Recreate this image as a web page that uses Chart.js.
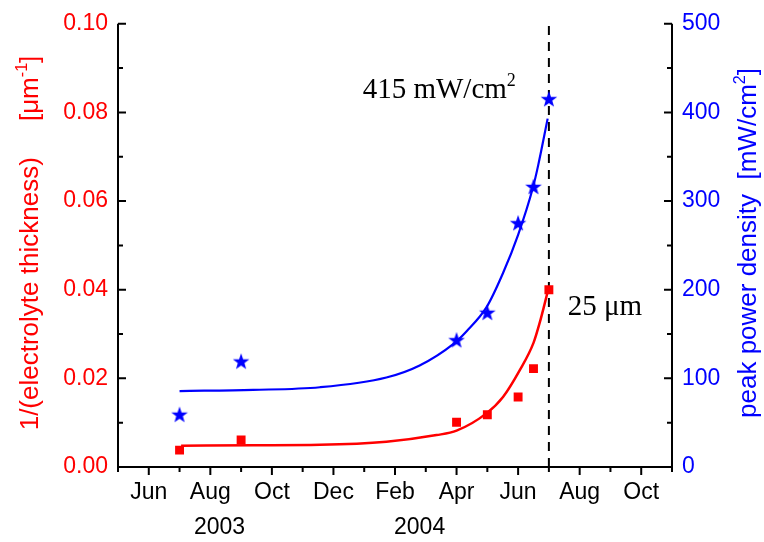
<!DOCTYPE html>
<html>
<head>
<meta charset="utf-8">
<script src="https://cdn.jsdelivr.net/npm/chart.js@4.4.0/dist/chart.umd.min.js"></script>
<style>
html, body { margin: 0; padding: 0; background: #fff; }
canvas { display: block; }
</style>
</head>
<body>
<canvas id="chart" width="764" height="542"></canvas>
<script>
// x values are months counted from May 2003 (0) to Nov 2004 (18)
const xTickLabels = ['', 'Jun', '', 'Aug', '', 'Oct', '', 'Dec', '', 'Feb', '', 'Apr', '', 'Jun', '', 'Aug', '', 'Oct', ''];
const yearLabels = ['2003', '2004'];
const yearPos = [3.3, 9.8];

// measured points
const thickX = [2, 4, 11, 12, 13, 13.5, 14];
const thickY = [0.0038, 0.0061, 0.0101, 0.0118, 0.0158, 0.0222, 0.0400];
const powerX = [2, 4, 11, 12, 13, 13.5, 14];
const powerY = [59, 119, 143, 174, 275, 316, 415];

// fitted curves
const thickFitX = [2.05, 4.4, 6.56, 8.72, 10.35, 11.0, 11.97, 12.51, 13.05, 13.5, 13.7, 13.97];
const thickFitY = [0.0048, 0.0049, 0.0050, 0.0057, 0.0072, 0.0082, 0.0121, 0.0158, 0.0218, 0.0280, 0.0325, 0.0398];
const powerFitX = [2.0, 4.39, 6.56, 8.72, 9.8, 10.9, 11.32, 11.97, 12.5, 13.0, 13.48, 13.65, 13.96];
const powerFitY = [85.7, 87, 90, 101, 114.6, 139, 153, 180, 218, 262, 315, 340, 393];

const cutoffX = 14;

const sans = "'Liberation Sans', Arial, sans-serif";
const serif = "'Liberation Serif', 'Times New Roman', serif";
const RED = '#ff0000';
const BLUE = '#0000ff';

function makeStar(size, color) {
    const c = document.createElement('canvas');
    c.width = size;
    c.height = size;
    const g = c.getContext('2d');
    const cx = size / 2, cy = size / 2 + 0.5;
    const ro = size / 2 - 0.3, ri = ro * 0.4;
    g.beginPath();
    for (let i = 0; i < 10; i++) {
        const r = i % 2 ? ri : ro;
        const a = -Math.PI / 2 + i * Math.PI / 5;
        g.lineTo(cx + r * Math.cos(a), cy + r * Math.sin(a));
    }
    g.closePath();
    g.fillStyle = color;
    g.fill();
    return c;
}

function pts(xs, ys) {
    return xs.map((v, i) => ({ x: v, y: ys[i] }));
}

// text with superscript parts, centred at (cx, cy), optionally rotated
function drawRich(ctx, parts, cx, cy, size, family, color, rotate, align) {
    ctx.save();
    ctx.translate(cx, cy);
    if (rotate) ctx.rotate(-Math.PI / 2);
    ctx.fillStyle = color;
    ctx.textBaseline = 'alphabetic';
    let total = 0;
    const widths = parts.map(p => {
        ctx.font = (p.sup ? size * 0.62 : size) + 'px ' + family;
        const w = ctx.measureText(p.t).width;
        total += w;
        return w;
    });
    let x = align === 'left' ? 0 : -total / 2;
    parts.forEach((p, i) => {
        ctx.font = (p.sup ? size * 0.62 : size) + 'px ' + family;
        ctx.fillText(p.t, x, p.sup ? -size * 0.42 : 0);
        x += widths[i];
    });
    ctx.restore();
}

const axesPlugin = {
    id: 'axes',
    afterDraw(chart) {
        const ctx = chart.ctx;
        const a = chart.chartArea;
        const { x, y, y2 } = chart.scales;
        ctx.save();
        ctx.strokeStyle = '#000';
        ctx.lineWidth = 2;
        ctx.beginPath();
        ctx.moveTo(a.left, a.top);
        ctx.lineTo(a.left, a.bottom);
        ctx.lineTo(a.right, a.bottom);
        ctx.lineTo(a.right, a.top);
        ctx.stroke();

        ctx.beginPath();
        for (let m = 0; m <= 18; m++) {
            const px = x.getPixelForValue(m);
            ctx.moveTo(px, a.bottom);
            ctx.lineTo(px, a.bottom + (m % 2 ? 8 : 5));
        }
        for (let i = 0; i <= 10; i++) {
            const len = i % 2 ? 5 : 8;
            const py = y.getPixelForValue(i * 0.01);
            ctx.moveTo(a.left, py);
            ctx.lineTo(a.left + len, py);
            const py2 = y2.getPixelForValue(i * 50);
            ctx.moveTo(a.right, py2);
            ctx.lineTo(a.right - len, py2);
        }
        ctx.stroke();

        // year labels
        ctx.fillStyle = '#000';
        ctx.font = '23px ' + sans;
        ctx.textAlign = 'center';
        ctx.textBaseline = 'middle';
        yearLabels.forEach((t, i) => ctx.fillText(t, x.getPixelForValue(yearPos[i]), a.bottom + 61));
        ctx.restore();

        // axis titles
        drawRich(ctx, [{ t: '1/(electrolyte thickness)     [\u03bcm' }, { t: '-1', sup: true }, { t: ']' }],
            38, 243, 26, sans, RED, true);
        drawRich(ctx, [{ t: 'peak power density  [mW/cm' }, { t: '2', sup: true }, { t: ']' }],
            756, 243, 26, sans, BLUE, true);

        // annotations
        drawRich(ctx, [{ t: '415 mW/cm' }, { t: '2', sup: true }],
            x.getPixelForValue(7.95), y2.getPixelForValue(416), 29, serif, '#000', false, 'left');
        drawRich(ctx, [{ t: '25 \u03bcm' }],
            x.getPixelForValue(14.61), y.getPixelForValue(0.0342), 29, serif, '#000', false, 'left');
    }
};

const tickFont = { family: sans, size: 23 };

new Chart(document.getElementById('chart'), {
    type: 'scatter',
    data: {
        datasets: [
            {
                data: pts(powerX, powerY), yAxisID: 'y2',
                pointStyle: makeStar(18, BLUE), pointRadius: 9, order: 0
            },
            {
                data: pts(thickX, thickY), yAxisID: 'y',
                pointStyle: 'rect', pointRadius: 6.3, backgroundColor: RED, borderWidth: 0, order: 1
            },
            {
                data: pts(powerFitX, powerFitY), yAxisID: 'y2', showLine: true,
                pointRadius: 0, borderColor: BLUE, borderWidth: 2.2, cubicInterpolationMode: 'monotone', order: 2
            },
            {
                data: pts(thickFitX, thickFitY), yAxisID: 'y', showLine: true,
                pointRadius: 0, borderColor: RED, borderWidth: 2.5, cubicInterpolationMode: 'monotone', order: 3
            },
            {
                data: [{ x: cutoffX, y: 0 }, { x: cutoffX, y: 0.1 }], yAxisID: 'y', showLine: true,
                pointRadius: 0, borderColor: '#000', borderWidth: 2, borderDash: [9, 7], order: 4
            }
        ]
    },
    options: {
        responsive: false,
        animation: false,
        devicePixelRatio: 1,
        layout: { padding: { top: 22, left: 0, right: 0, bottom: 0 } },
        plugins: { legend: { display: false }, tooltip: { enabled: false } },
        scales: {
            x: {
                type: 'linear', min: 0, max: 18,
                grid: { display: false, drawTicks: false }, border: { display: false },
                ticks: {
                    stepSize: 1, autoSkip: false, maxRotation: 0, padding: 12, color: '#000', font: tickFont,
                    callback: v => xTickLabels[v] || ''
                },
                afterFit(s) { s.height = 75; }
            },
            y: {
                type: 'linear', position: 'left', min: 0, max: 0.1,
                grid: { display: false, drawTicks: false }, border: { display: false },
                ticks: { stepSize: 0.02, padding: 10, color: RED, font: tickFont, callback: v => v.toFixed(2) },
                afterFit(s) { s.width = 118; }
            },
            y2: {
                type: 'linear', position: 'right', min: 0, max: 500,
                grid: { display: false, drawTicks: false }, border: { display: false },
                ticks: { stepSize: 100, padding: 10, color: BLUE, font: tickFont },
                afterFit(s) { s.width = 92; }
            }
        }
    },
    plugins: [axesPlugin]
});
</script>
</body>
</html>
